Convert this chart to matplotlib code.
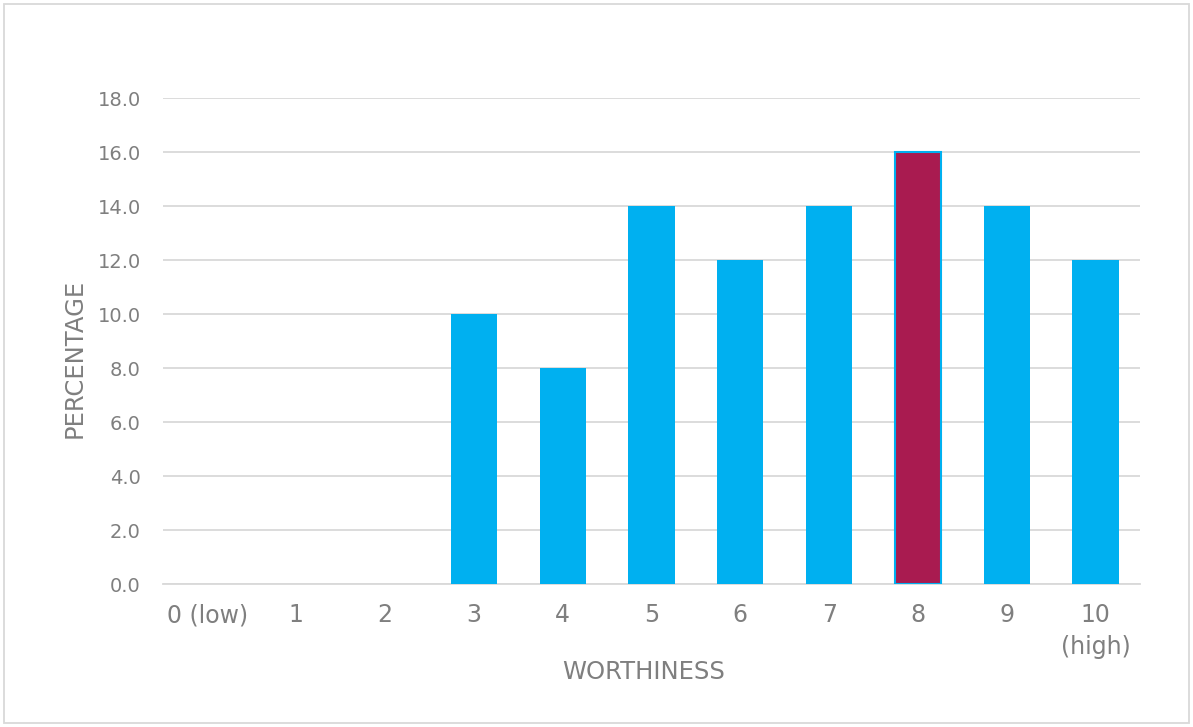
import matplotlib
matplotlib.use('Agg')
import matplotlib.pyplot as plt
from matplotlib.patches import Rectangle

# data
categories = ['0 (low)', '1', '2', '3', '4', '5', '6', '7', '8', '9', '10\n(high)']
percentages = [0, 0, 0, 10, 8, 14, 12, 14, 16, 14, 12]
highlight = '8'

COLORS = {
    'bar': '#00B0F0',
    'highlight': '#A91B50',
    'grid': '#D9D9D9',
    'text': '#7F7F7F',
    'border': '#D9D9D9',
}

plt.rcParams['font.family'] = ['DejaVu Sans']

fig = plt.figure(figsize=(11.93, 7.27), dpi=100)
ax = fig.add_axes([163 / 1193, 1 - 584 / 727, (1140 - 163) / 1193, (584 - 98) / 727])

x = list(range(len(categories)))
colors = [COLORS['highlight'] if c == highlight else COLORS['bar'] for c in categories]
edges = [COLORS['bar'] if c == highlight else 'none' for c in categories]
ax.bar(x, percentages, width=0.52, color=colors, edgecolor=edges, linewidth=1.5, zorder=3)

ax.set_xlim(-0.5, len(categories) - 0.5)
ax.set_ylim(0, 18)
ax.set_yticks([0, 2, 4, 6, 8, 10, 12, 14, 16, 18])
ax.set_yticklabels([f'{v:.1f}' for v in ax.get_yticks()])
ax.set_xticks(x)
ax.set_xticklabels(categories, linespacing=1.4)

ax.grid(axis='y', color=COLORS['grid'], linewidth=1.3, zorder=0)
ax.set_axisbelow(True)
for s in ['top', 'right', 'left']:
    ax.spines[s].set_visible(False)
ax.spines['bottom'].set_color(COLORS['grid'])
ax.spines['bottom'].set_linewidth(1.3)

ax.tick_params(axis='both', length=0, colors=COLORS['text'])
ax.tick_params(axis='y', labelsize=14, pad=16)
ax.tick_params(axis='x', labelsize=17, pad=14)

ax.set_xlabel('WORTHINESS', fontsize=17.5, color=COLORS['text'])
ax.xaxis.set_label_coords(0.492, -0.181)
ax.xaxis.label.set_va('center')
ax.set_ylabel('PERCENTAGE', fontsize=17.5, color=COLORS['text'])
ax.yaxis.set_label_coords(-0.09, 0.465)
ax.yaxis.label.set_va('center')

# chart frame
fig.patches.append(Rectangle((4 / 1193, 4 / 727), 1185 / 1193, 719 / 727,
                             transform=fig.transFigure, fill=False,
                             edgecolor=COLORS['border'], linewidth=1.3))

fig.savefig('out.png', dpi=100, facecolor='white')
